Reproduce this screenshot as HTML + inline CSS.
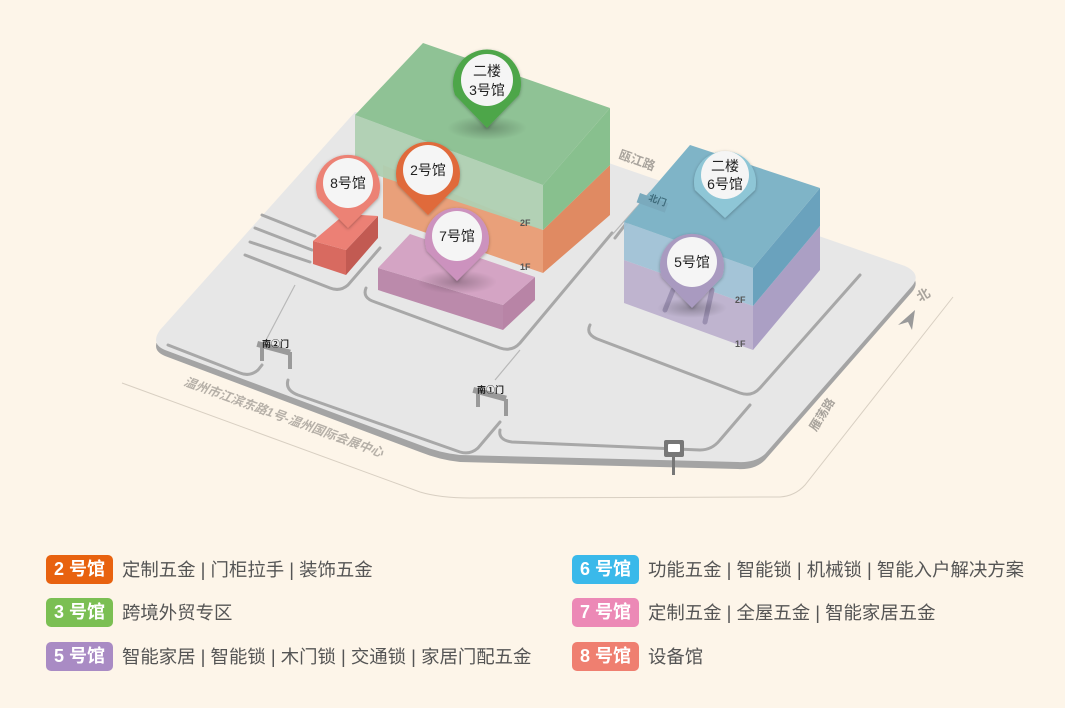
<!DOCTYPE html>
<html><head><meta charset="utf-8">
<style>
html,body{margin:0;padding:0;background:#fdf5e9;}
body{width:1065px;height:708px;overflow:hidden;position:relative;font-family:"Liberation Sans","Noto Sans CJK SC",sans-serif;}
.b{position:absolute;width:67px;height:29px;border-radius:5px;color:#fff;font-weight:bold;font-size:18px;line-height:29px;text-align:center;}
.t{position:absolute;font-size:18.4px;color:#555;line-height:29px;white-space:nowrap;}
</style></head><body>
<svg width="1065" height="540" style="position:absolute;left:0;top:0" font-family="Liberation Sans, Noto Sans CJK SC, sans-serif">
<defs>
<radialGradient id="sh"><stop offset="0" stop-color="#000" stop-opacity=".25"/><stop offset="1" stop-color="#000" stop-opacity="0"/></radialGradient>
<filter id="ds" x="-30%" y="-30%" width="160%" height="160%"><feDropShadow dx="0" dy="1" stdDeviation="1.5" flood-opacity=".3"/></filter>
</defs>
<path d="M122,383 L420,492 Q440,498 470,498 L780,497 Q795,496 805,485 L953,297" fill="none" stroke="#d8cfc2" stroke-width="1"/>
<path d="M160,336 L355,118 L600,165 L905,272 Q922,280 912,292 L765,460 Q755,470 738,469 L460,462 Q440,460 420,452 L165,356 Q150,350 160,336 Z" fill="#a4a4a4"/>
<path d="M160,330 L355,112 L600,160 L905,266 Q922,274 912,286 L765,454 Q755,463 738,462 L460,455 Q440,453 420,445 L165,350 Q150,344 160,330 Z" fill="#e7e7e7"/>
<g fill="none" stroke="#a8a8a8" stroke-width="3" stroke-linecap="round">
<path d="M168,345 L240,373 Q250,377 258,370 L262,365"/>
<path d="M288,380 Q285,390 298,395 L460,452 Q470,455 478,448 L500,422"/>
<path d="M500,430 Q498,440 512,442 L700,450 Q712,450 720,440 L750,405"/>
<path d="M245,255 L330,288 Q340,292 348,285 L380,248"/>
<path d="M262,215 L315,236 M255,228 L312,250 M250,242 L310,262"/>
<path d="M366,288 Q362,298 375,302 L500,348 Q512,352 520,343 L612,233"/>
<path d="M590,325 Q585,335 600,340 L740,393 Q752,397 760,388 L860,275"/>
<path d="M635,212 L615,238"/>
</g>
<g stroke="#b8b8b8" stroke-width="1.2" fill="none"><path d="M295,285 L265,342 M520,350 L495,380 M612,235 L650,192"/></g>
<text transform="translate(183,385) rotate(20)" font-size="12.5" font-weight="bold" fill="#b6b0a8" font-style="italic">温州市江滨东路1号-温州国际会展中心</text>
<text transform="translate(618,158) rotate(20)" font-size="12.5" font-weight="bold" fill="#a9a49d">瓯江路</text>
<text transform="translate(920,302) rotate(-30)" font-size="13" font-weight="bold" fill="#a9a49d">北</text>
<path d="M898,325 L915,310 L912,330 L908,322 Z" fill="#9a9a9a"/>
<text transform="translate(816,432) rotate(-58)" font-size="12" font-weight="bold" fill="#a9a49d">雁荡路</text>
<polygon points="383,165 543,230 543,273 383,218" fill="#e9a07a"/>
<polygon points="543,230 610,165 610,215 543,273" fill="#e08a62"/>
<polygon points="355,115 543,185 543,230 355,168" fill="#afd0b2" opacity=".95"/>
<polygon points="543,185 610,108 610,165 543,230" fill="#88c08e"/>
<polygon points="355,115 423,43 610,108 543,185" fill="#8fc295"/>
<ellipse cx="487" cy="128" rx="40" ry="12" fill="url(#sh)"/>
<text x="520" y="226" font-size="9" font-weight="bold" fill="#555">2F</text>
<text x="520" y="270" font-size="9" font-weight="bold" fill="#555">1F</text>
<polygon points="313,241 346,250 346,275 313,264" fill="#d86a60"/>
<polygon points="346,250 378,216 378,238 346,275" fill="#c25a52"/>
<polygon points="313,241 345,214 378,216 346,250" fill="#ec8075"/>
<polygon points="378,268 503,305 503,330 378,290" fill="#bb8aab"/>
<polygon points="503,305 535,277 535,300 503,330" fill="#b884a6"/>
<polygon points="378,268 410,234 535,277 503,305" fill="#d4a4c4"/>
<ellipse cx="457" cy="282" rx="40" ry="12" fill="url(#sh)"/>
<polygon points="624,260 753,306 753,350 624,303" fill="#bfb4cf"/>
<polygon points="753,306 820,226 820,270 753,350" fill="#ab9fc4"/>
<polygon points="624,222 753,268 753,306 624,260" fill="#a0c2d6" opacity=".95"/>
<polygon points="753,268 820,188 820,226 753,306" fill="#6aa2bd"/>
<polygon points="624,222 690,145 820,188 753,268" fill="#7fb4c7"/>
<path d="M673,290 L665,310 M712,290 L705,322" stroke="#9a8fb0" stroke-width="5" stroke-linecap="round"/>
<ellipse cx="692" cy="308" rx="35" ry="10" fill="url(#sh)"/>
<text x="735" y="303" font-size="9" font-weight="bold" fill="#555">2F</text>
<text x="735" y="347" font-size="9" font-weight="bold" fill="#555">1F</text>
<rect x="640" y="193" width="30" height="10" fill="#7aaabd" transform="rotate(20 640 193)"/>
<text transform="translate(648,200) rotate(20)" font-size="9" font-weight="bold" fill="#3d6a7a">北门</text>
<g fill="#9a9a9a"><rect x="258" y="341" width="34" height="6" transform="rotate(15 258 341)"/><rect x="260" y="345" width="4" height="16"/><rect x="288" y="352" width="4" height="17"/>
<rect x="474" y="387" width="34" height="6" transform="rotate(15 474 387)"/><rect x="476" y="391" width="4" height="16"/><rect x="504" y="399" width="4" height="17"/></g>
<text x="262" y="347" font-size="9" font-weight="bold" fill="#222">南②门</text>
<text x="477" y="393" font-size="9" font-weight="bold" fill="#222">南①门</text>
<rect x="664" y="440" width="20" height="17" rx="2" fill="#777"/><rect x="668" y="444" width="12" height="8" rx="1" fill="#fff"/><rect x="672" y="457" width="3" height="18" fill="#777"/>
<g filter="url(#ds)">
<g><path d="M455,95 A34,34 0 1 1 519,95 L487,128 Z" fill="#4ea64a"/><circle cx="487" cy="80" r="26" fill="#f5f5f5"/></g>
<g><path d="M398,185 A32,32 0 1 1 458,185 L428,215 Z" fill="#e06a3a"/><circle cx="428" cy="170" r="25" fill="#f5f5f5"/></g>
<g><path d="M318,198 A32,32 0 1 1 378,198 L348,228 Z" fill="#ec8275"/><circle cx="348" cy="183" r="25" fill="#f5f5f5"/></g>
<g><path d="M427,251 A32,32 0 1 1 487,251 L457,281 Z" fill="#cc92be"/><circle cx="457" cy="236" r="25" fill="#f5f5f5"/></g>
<g><path d="M695,190 A31,31 0 1 1 755,190 L725,218 Z" fill="#8ec6d6"/><circle cx="725" cy="175" r="24" fill="#f5f5f5"/></g>
<g><path d="M662,277 A32,32 0 1 1 722,277 L692,308 Z" fill="#a99ac0"/><circle cx="692" cy="262" r="25" fill="#f5f5f5"/></g>
</g>
<g font-size="14" fill="#222" text-anchor="middle">
<text x="487" y="76">二楼</text><text x="487" y="95">3号馆</text>
<text x="428" y="175">2号馆</text>
<text x="348" y="188">8号馆</text>
<text x="457" y="241">7号馆</text>
<text x="725" y="171">二楼</text><text x="725" y="189">6号馆</text>
<text x="692" y="267">5号馆</text>
</g>
</svg>
<div class="b" style="left:46px;top:555px;background:#e8620f">2 号馆</div><div class="t" style="left:122px;top:555px">定制五金 | 门柜拉手 | 装饰五金</div>
<div class="b" style="left:46px;top:598px;background:#7bbf53">3 号馆</div><div class="t" style="left:122px;top:598px">跨境外贸专区</div>
<div class="b" style="left:46px;top:642px;background:#a98bc4">5 号馆</div><div class="t" style="left:122px;top:642px">智能家居 | 智能锁 | 木门锁 | 交通锁 | 家居门配五金</div>
<div class="b" style="left:572px;top:555px;background:#3ab9ea">6 号馆</div><div class="t" style="left:648px;top:555px">功能五金 | 智能锁 | 机械锁 | 智能入户解决方案</div>
<div class="b" style="left:572px;top:598px;background:#ec89b6">7 号馆</div><div class="t" style="left:648px;top:598px">定制五金 | 全屋五金 | 智能家居五金</div>
<div class="b" style="left:572px;top:642px;background:#ef7f70">8 号馆</div><div class="t" style="left:648px;top:642px">设备馆</div>
</body></html>
